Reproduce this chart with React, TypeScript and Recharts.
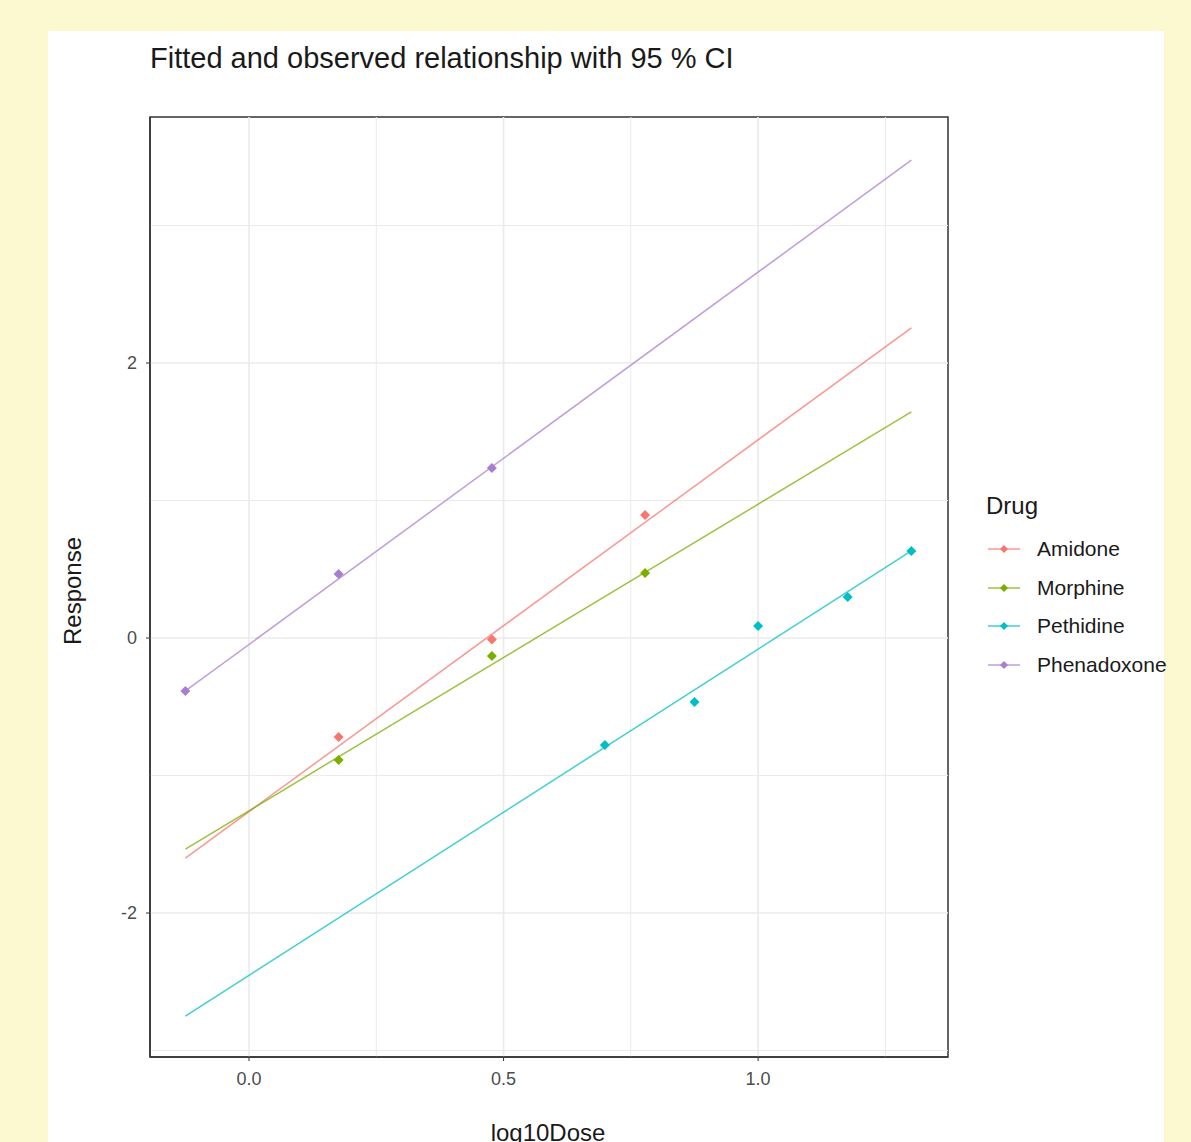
import React from "react";
import {
  ComposedChart,
  Line,
  Scatter,
  XAxis,
  YAxis,
  ReferenceLine,
  ReferenceArea,
} from "recharts";

const drugs = ["Amidone", "Morphine", "Pethidine", "Phenadoxone"];
const colors = ["#F8766D", "#7CAE00", "#00BFC4", "#A97ECF"];

// observed points (log10Dose, Response)
const amidoneObs = [
  { x: 0.176, y: -0.72 },
  { x: 0.477, y: -0.01 },
  { x: 0.778, y: 0.895 },
];
const morphineObs = [
  { x: 0.176, y: -0.887 },
  { x: 0.477, y: -0.131 },
  { x: 0.778, y: 0.473 },
];
const pethidineObs = [
  { x: 0.699, y: -0.778 },
  { x: 0.875, y: -0.465 },
  { x: 1.0, y: 0.087 },
  { x: 1.176, y: 0.298 },
  { x: 1.301, y: 0.633 },
];
const phenadoxoneObs = [
  { x: -0.125, y: -0.385 },
  { x: 0.176, y: 0.465 },
  { x: 0.477, y: 1.236 },
];

// fitted line end points
const amidoneFit = [
  { x: -0.125, y: -1.6 },
  { x: 1.301, y: 2.255 },
];
const morphineFit = [
  { x: -0.125, y: -1.535 },
  { x: 1.301, y: 1.644 },
];
const pethidineFit = [
  { x: -0.125, y: -2.749 },
  { x: 1.301, y: 0.633 },
];
const phenadoxoneFit = [
  { x: -0.125, y: -0.385 },
  { x: 1.301, y: 3.476 },
];

const observed = [amidoneObs, morphineObs, pethidineObs, phenadoxoneObs];
const fitted = [amidoneFit, morphineFit, pethidineFit, phenadoxoneFit];

const xDomain = [-0.1945, 1.373];
const yDomain = [-3.047, 3.789];
const xTicks = [0, 0.5, 1.0];
const yTicks = [-2, 0, 2];
const xMinor = [0.25, 0.75, 1.25];
const yMinor = [-3, -1, 1, 3];

const FONT = "'Liberation Sans', Arial, sans-serif";

const Diamond = (props: any) => {
  const { cx, cy, fill } = props;
  if (cx == null || cy == null) return null;
  const r = 5;
  return (
    <polygon
      points={`${cx},${cy - r} ${cx + r},${cy} ${cx},${cy + r} ${cx - r},${cy}`}
      fill={fill}
    />
  );
};

export default function App() {
  return (
    <div
      style={{
        position: "absolute",
        left: 0,
        top: 0,
        width: 1191,
        height: 1142,
        overflow: "hidden",
        background: "#FCF8D0",
        fontFamily: FONT,
      }}
    >
      <div
        style={{
          position: "absolute",
          left: 48,
          top: 31,
          width: 1116,
          height: 1111,
          background: "#FFFFFF",
        }}
      />
      <div
        style={{
          position: "absolute",
          left: 150,
          top: 39,
          fontSize: 29,
          color: "#1A1A1A",
          whiteSpace: "nowrap",
          lineHeight: "38px",
        }}
      >
        Fitted and observed relationship with 95 % CI
      </div>
      <div
        style={{
          position: "absolute",
          left: 73,
          top: 591,
          transform: "translate(-50%, -50%) rotate(-90deg)",
          fontSize: 24,
          color: "#1A1A1A",
          whiteSpace: "nowrap",
        }}
      >
        Response
      </div>
      <div
        style={{
          position: "absolute",
          left: 548,
          top: 1119,
          transform: "translateX(-50%)",
          fontSize: 24,
          color: "#1A1A1A",
          whiteSpace: "nowrap",
          lineHeight: "28px",
        }}
      >
        log10Dose
      </div>
      <div style={{ position: "absolute", left: 986, top: 490 }}>
        <div style={{ fontSize: 24, color: "#1A1A1A", lineHeight: "32px" }}>
          Drug
        </div>
      </div>
      {drugs.map((d, i) => (
        <div
          key={d}
          style={{
            position: "absolute",
            left: 986,
            top: 549 + i * 38.7 - 14,
            height: 28,
            display: "flex",
            alignItems: "center",
          }}
        >
          <svg width={36} height={28}>
            <line x1={2} x2={34} y1={14} y2={14} stroke={colors[i]} strokeOpacity={0.75} strokeWidth={1.5} />
            <polygon points="18,10 22,14 18,18 14,14" fill={colors[i]} />
          </svg>
          <span style={{ marginLeft: 15, fontSize: 21, color: "#1A1A1A" }}>{d}</span>
        </div>
      ))}
      <div style={{ position: "absolute", left: 0, top: 0 }}>
        <ComposedChart
          width={1191}
          height={1142}
          margin={{ top: 117, right: 243, bottom: 25, left: 90 }}
        >
          <XAxis
            dataKey="x"
            type="number"
            domain={xDomain}
            ticks={xTicks}
            allowDataOverflow
            height={60}
            tickFormatter={(v: number) => v.toFixed(1)}
            tick={{ fill: "#4D4D4D", fontSize: 18, fontFamily: FONT }}
            tickSize={4}
            tickMargin={11}
            tickLine={{ stroke: "#333333" }}
            axisLine={{ stroke: "#333333", strokeWidth: 1.5 }}
          />
          <YAxis
            dataKey="y"
            type="number"
            domain={yDomain}
            ticks={yTicks}
            allowDataOverflow
            width={60}
            tickFormatter={(v: number) => String(v)}
            tick={{ fill: "#4D4D4D", fontSize: 18, fontFamily: FONT }}
            tickSize={4}
            tickMargin={9}
            tickLine={{ stroke: "#333333" }}
            axisLine={{ stroke: "#333333", strokeWidth: 1.5 }}
          />
          {yMinor.map((v) => (
            <ReferenceLine key={"ym" + v} y={v} stroke="#EBEBEB" strokeWidth={1} />
          ))}
          {xMinor.map((v) => (
            <ReferenceLine key={"xm" + v} x={v} stroke="#EBEBEB" strokeWidth={1} />
          ))}
          {yTicks.map((v) => (
            <ReferenceLine key={"y" + v} y={v} stroke="#EBEBEB" strokeWidth={1.6} />
          ))}
          {xTicks.map((v) => (
            <ReferenceLine key={"x" + v} x={v} stroke="#EBEBEB" strokeWidth={1.6} />
          ))}
          <ReferenceArea
            x1={xDomain[0]}
            x2={xDomain[1]}
            y1={yDomain[0]}
            y2={yDomain[1]}
            fill="none"
            fillOpacity={0}
            stroke="#333333"
            strokeWidth={1.5}
          />
          {fitted.map((f, i) => (
            <Line
              key={"f" + i}
              data={f}
              dataKey="y"
              type="linear"
              stroke={colors[i]}
              strokeOpacity={0.75}
              strokeWidth={1.5}
              dot={false}
              activeDot={false}
              isAnimationActive={false}
            />
          ))}
          {observed.map((o, i) => (
            <Scatter
              key={"o" + i}
              data={o}
              dataKey="y"
              fill={colors[i]}
              shape={<Diamond />}
              isAnimationActive={false}
            />
          ))}
        </ComposedChart>
      </div>
    </div>
  );
}
